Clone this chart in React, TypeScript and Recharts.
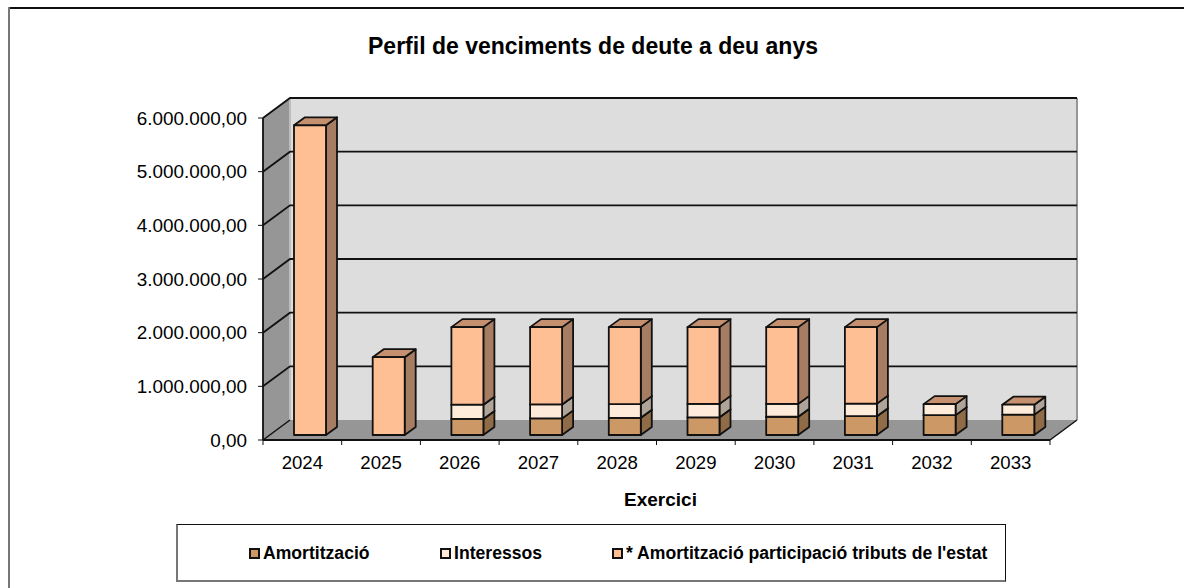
import { BarChart, Bar, XAxis, YAxis, CartesianGrid, Legend, ReferenceArea } from 'recharts'

const years = ['2024', '2025', '2026', '2027', '2028', '2029', '2030', '2031', '2032', '2033']
const amortitzacio = [0, 0, 300000, 310000, 320000, 330000, 340000, 350000, 370000, 380000]
const interessos = [0, 0, 265000, 260000, 255000, 250000, 240000, 235000, 205000, 185000]
const participacio = [5770000, 1450000, 1445000, 1440000, 1435000, 1430000, 1430000, 1425000, 0, 0]
const yTicks = [0, 1000000, 2000000, 3000000, 4000000, 5000000, 6000000]

const data = years.map((year, i) => ({
  year,
  amortitzacio: amortitzacio[i],
  interessos: interessos[i],
  participacio: participacio[i],
}))

const FONT = 'Liberation Sans, Arial, sans-serif'
const DX = 27
const DY = 20

const formatEuro = (v: number) =>
  v.toLocaleString('de-DE', { minimumFractionDigits: 2, maximumFractionDigits: 2 })

// front / side / top colours of each stacked piece
const BAR_COLORS = {
  amortitzacio: ['#CC9966', '#8F6B47', '#C49070'],
  interessos: ['#FFEBD9', '#B0A498', '#C49070'],
  participacio: ['#FFBF94', '#A67C62', '#C49070'],
}

function Bar3D({ x, y, width, height, colors }: any) {
  if (!height || height <= 0) return null
  const l = x + 8
  const r = l + width
  const t = y - 5
  const b = t + height
  const d = 11
  const e = 8
  return (
    <g stroke="#111" strokeWidth={1.8} strokeLinejoin="round">
      <polygon points={`${r},${t} ${r + d},${t - e} ${r + d},${b - e} ${r},${b}`} fill={colors[1]} />
      <polygon points={`${l},${t} ${l + d},${t - e} ${r + d},${t - e} ${r},${t}`} fill={colors[2]} />
      <rect x={l} y={t} width={width} height={height} fill={colors[0]} />
    </g>
  )
}

function Walls({ x, y, width, height }: any) {
  const b = y + height
  const r = x + width
  return (
    <g>
      <polygon points={`${x + DX},${y - DY} ${r + DX},${y - DY} ${r + DX},${b - DY} ${x + DX},${b - DY}`} fill="#DDDDDD" />
      <polygon points={`${x},${y} ${x + DX},${y - DY} ${x + DX},${b - DY} ${x},${b}`} fill="#969696" />
      <polygon points={`${x},${b} ${x + DX},${b - DY} ${r + DX},${b - DY} ${r},${b}`} fill="#969696" />
      <polyline points={`${r + DX},${y - DY} ${r + DX},${b - DY}`} stroke="#969696" strokeWidth={2} fill="none" />
      <polyline points={`${x + DX},${y - DY} ${x + DX},${b - DY}`} stroke="#BDBDBD" strokeWidth={2} fill="none" />
      <polyline points={`${r},${b} ${r + DX},${b - DY}`} stroke="#111" strokeWidth={1.5} fill="none" />
      <polyline points={`${x},${b} ${x + DX},${b - DY}`} stroke="#111" strokeWidth={1.5} fill="none" />
    </g>
  )
}

function GridLine({ x1, x2, y1 }: any) {
  // the bottom line runs along the floor, only the diagonal part is drawn by the walls
  if (y1 > 430) return <g />
  return (
    <polyline
      points={`${x1},${y1} ${x1 + DX},${y1 - DY} ${x2 + DX},${y1 - DY}`}
      stroke="#111"
      strokeWidth={1.8}
      fill="none"
    />
  )
}

function YearTick({ x, y, payload, index }: any) {
  const band = 78.7
  return (
    <g>
      <line x1={x - band / 2} x2={x - band / 2} y1={y - 8} y2={y - 3} stroke="#111" />
      {index === years.length - 1 && <line x1={x + band / 2} x2={x + band / 2} y1={y - 8} y2={y - 3} stroke="#111" />}
      <text x={x} y={y + 21} textAnchor="middle" fontSize={18.6} fontFamily={FONT} fill="#000">
        {payload.value}
      </text>
    </g>
  )
}

function LegendBox({ payload }: any) {
  const lefts = [249, 440, 612]
  return (
    <div style={{ position: 'relative', width: 830, height: 58, boxSizing: 'border-box', borderTop: '1px solid #111', borderRight: '1px solid #111', borderLeft: '2px solid #777', borderBottom: '2px solid #777' }}>
      {(payload || []).map((p: any, i: number) => (
        <div
          key={p.value}
          style={{ position: 'absolute', left: lefts[i] - 178, top: 18, display: 'flex', alignItems: 'center', fontFamily: FONT, fontWeight: 'bold', fontSize: 17.6, lineHeight: '20px', color: '#000', whiteSpace: 'nowrap' }}
        >
          <span style={{ width: 7, height: 7, border: '2px solid #111', background: p.color, display: 'inline-block', marginRight: 3 }} />
          {p.value}
        </div>
      ))}
    </div>
  )
}

export default function App() {
  return (
    <div style={{ position: 'absolute', left: 0, top: 0, width: 1184, height: 588, background: '#fff', overflow: 'hidden' }}>
      <div style={{ position: 'absolute', left: 8, top: 7, width: 1176, height: 2, background: '#111' }} />
      <div style={{ position: 'absolute', left: 8, top: 7, width: 2, height: 581, background: '#777' }} />
      <div style={{ position: 'absolute', left: 593, top: 33, transform: 'translateX(-50%)', whiteSpace: 'nowrap', fontFamily: FONT, fontWeight: 'bold', fontSize: 23 }}>
        Perfil de venciments de deute a deu anys
      </div>
      <BarChart
        width={1184}
        height={588}
        data={data}
        margin={{ top: 118, right: 134, bottom: 60, left: 163 }}
        barSize={32}
        style={{ position: 'absolute', left: 0, top: 0 }}
      >
        <ReferenceArea y1={0} y2={6000000} shape={<Walls />} ifOverflow="visible" stroke="none" fill="none" zIndex={-200} />
        <CartesianGrid vertical={false} zIndex={-50} horizontal={(props: any) => <GridLine key={props.key ?? props.y1} {...props} />} />
        <XAxis
          dataKey="year"
          height={30}
          interval={0}
          axisLine={{ stroke: '#111', strokeWidth: 1.8 }}
          tickLine={false}
          tick={<YearTick />}
          label={{ value: 'Exercici', position: 'insideBottom', offset: -36, dx: 4, fontFamily: FONT, fontWeight: 'bold', fontSize: 19, fill: '#000' }}
        />
        <YAxis
          width={100}
          domain={[0, 6000000]}
          ticks={yTicks}
          interval={0}
          tickFormatter={formatEuro}
          axisLine={{ stroke: '#111', strokeWidth: 1.8 }}
          tickLine={{ stroke: '#111' }}
          tickSize={5}
          tickMargin={11}
          tick={{ fill: '#000', fontSize: 18.9, fontFamily: FONT }}
        />
        <Bar dataKey="amortitzacio" name="Amortització" stackId="a" fill={BAR_COLORS.amortitzacio[0]} isAnimationActive={false} shape={(p: any) => <Bar3D {...p} colors={BAR_COLORS.amortitzacio} />} />
        <Bar dataKey="interessos" name="Interessos" stackId="a" fill={BAR_COLORS.interessos[0]} isAnimationActive={false} shape={(p: any) => <Bar3D {...p} colors={BAR_COLORS.interessos} />} />
        <Bar dataKey="participacio" name="* Amortització participació tributs de l'estat" stackId="a" fill={BAR_COLORS.participacio[0]} isAnimationActive={false} shape={(p: any) => <Bar3D {...p} colors={BAR_COLORS.participacio} />} />
        <Legend itemSorter={null} content={<LegendBox />} wrapperStyle={{ position: 'absolute', left: 176, top: 524, width: 830, bottom: 'auto' }} />
      </BarChart>
    </div>
  )
}
